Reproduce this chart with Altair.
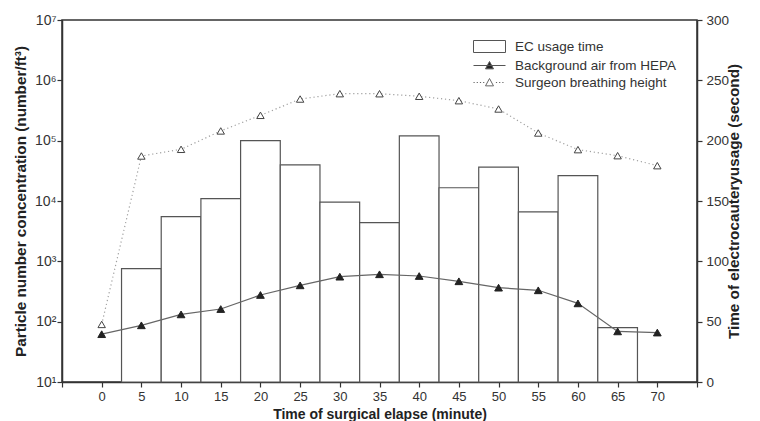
import altair as alt
import pandas as pd

# ---------------- data ----------------
minutes = [0, 5, 10, 15, 20, 25, 30, 35, 40, 45, 50, 55, 60, 65, 70]
hepa = [62, 87, 132, 162, 277, 400, 557, 610, 571, 467, 366, 331, 201, 69, 66]
surgeon = [90, 55700, 71900, 145000, 263000, 490000, 601000, 600000,
           544000, 460000, 335000, 134000, 71000, 56400, 38500]

ec_minutes = [5, 10, 15, 20, 25, 30, 35, 40, 45, 50, 55, 60, 65]
ec_seconds = [94, 137, 152, 200, 180, 149, 132, 204, 161, 178, 141, 171, 45]

series_names = ["EC usage time", "Background air from HEPA", "Surgeon breathing height"]

x_ticks = list(range(-5, 80, 5))
y_left_ticks = [10, 100, 1000, 10000, 100000, 1000000, 10000000]
y_right_ticks = [0, 50, 100, 150, 200, 250, 300]

# ---------------- tables ----------------
hepa_df = pd.DataFrame({"minute": minutes, "value": hepa})
surg_df = pd.DataFrame({"minute": minutes, "value": surgeon})
ec_df = pd.DataFrame({"minute": ec_minutes, "seconds": ec_seconds})
legend_df = pd.DataFrame({"series": series_names})

FONT = "Liberation Sans"
X_TITLE = "Time of surgical elapse (minute)"

xscale = alt.Scale(domain=[-5, 75], nice=False, zero=False)
xaxis = alt.Axis(values=x_ticks, title=X_TITLE,
                 labelExpr="datum.value < 0 || datum.value > 70 ? '' : datum.label",
                 labelOverlap=False, labelFlush=False,
                 grid=False, tickSize=5, labelFontSize=13, labelPadding=3,
                 titleFontSize=14, titleFontWeight="bold", titlePadding=4)

left_scale = alt.Scale(type="log", domain=[10, 1e7], nice=False)
left_axis = alt.Axis(orient="left", values=y_left_ticks, grid=False,
                     title="Particle number concentration (number/ft³)",
                     labelExpr="'10' + ['⁰','¹','²','³','⁴','⁵','⁶','⁷'][round(log(datum.value)/LN10)]",
                     labelOverlap=False,
                     tickSize=5, labelPadding=1, labelFontSize=14,
                     titleFontSize=15.3, titleFontWeight="bold", titlePadding=6)

right_scale = alt.Scale(domain=[0, 300], nice=False)
right_axis = alt.Axis(orient="right", values=y_right_ticks, grid=False,
                      title="Time of electrocauteryusage (second)", titleAngle=270,
                      labelOverlap=False,
                      tickSize=5, labelPadding=4, labelFontSize=13.5,
                      titleFontSize=15.3, titleFontWeight="bold", titlePadding=13)

# ---------------- bars (right axis) ----------------
bars = alt.Chart(ec_df).transform_calculate(
    x0="datum.minute - 2.5", x1="datum.minute + 2.5", base="0"
).mark_rect(fill="white", stroke="#555", strokeWidth=1.2).encode(
    x=alt.X("x0:Q", scale=xscale, axis=xaxis, title=X_TITLE),
    x2="x1:Q",
    y=alt.Y("seconds:Q", scale=right_scale, axis=right_axis),
    y2="base:Q",
)

# ---------------- particle series (left log axis) ----------------
X = alt.X("minute:Q", scale=xscale, axis=xaxis, title=X_TITLE)
Y = alt.Y("value:Q", scale=left_scale, axis=left_axis)

surg_line = alt.Chart(surg_df).mark_line(
    color="#a0a0a0", strokeWidth=1.2, strokeDash=[1.2, 2.8], interpolate="linear"
).encode(x=X, y=Y)
surg_pts = alt.Chart(surg_df).mark_point(
    shape="triangle-up", size=55, filled=True, fill="white", stroke="#444",
    strokeWidth=1, opacity=1
).encode(x=X, y=Y)

hepa_line = alt.Chart(hepa_df).mark_line(
    color="#666", strokeWidth=1.2, interpolate="linear"
).encode(x=X, y=Y)
hepa_pts = alt.Chart(hepa_df).mark_point(
    shape="triangle-up", size=60, filled=True, fill="#222", stroke="#222",
    strokeWidth=1, opacity=1
).encode(x=X, y=Y)

# ---------------- legend (custom symbol paths) ----------------
tri = "M-0.5,0.42L0,-0.5L0.5,0.42Z"
rect_path = "M-2,-0.75H2V0.75H-2Z"
solid_path = "M-2,0H2" + tri
dots = []
p = -2.0
while p < 2.0:
    if p + 0.15 < -0.65 or p > 0.65:
        dots.append("M%.2f,0H%.2f" % (p, p + 0.15))
    p += 0.4
dotted_path = "".join(dots) + tri

def leg():
    return alt.Legend(title=None, orient="none", legendX=419, legendY=18,
                      symbolSize=256, rowPadding=2, labelOffset=17, labelLimit=400,
                      labelFontSize=13.5, labelColor="#333", padding=0,
                      symbolStrokeWidth=1, symbolOpacity=1)

legend_layer = alt.Chart(legend_df).transform_filter("false").mark_point(
    filled=True, strokeWidth=1, opacity=1
).encode(
    shape=alt.Shape("series:N",
                    scale=alt.Scale(domain=series_names,
                                    range=[rect_path, solid_path, dotted_path]),
                    legend=leg()),
    fill=alt.Fill("series:N",
                  scale=alt.Scale(domain=series_names, range=["white", "#222", "white"]),
                  legend=leg()),
    stroke=alt.Stroke("series:N",
                      scale=alt.Scale(domain=series_names, range=["#555", "#555", "#666"]),
                      legend=leg()),
)

particles = alt.layer(surg_line, surg_pts, hepa_line, hepa_pts, legend_layer)

chart = alt.layer(bars, particles).resolve_scale(y="independent").properties(
    width=635, height=362
).configure(font=FONT).configure_view(
    stroke="#333", strokeWidth=1.5
).configure_axis(
    domainColor="#333", domainWidth=1.5, tickColor="#333", tickWidth=1.2,
    labelColor="#333", titleColor="#222", labelFont=FONT, titleFont=FONT,
    labelOverlap=False
).configure_axisX(labelOverlap=False, labelFlush=False)

chart.save("out.html", embed_options={"renderer": "svg", "actions": False})
